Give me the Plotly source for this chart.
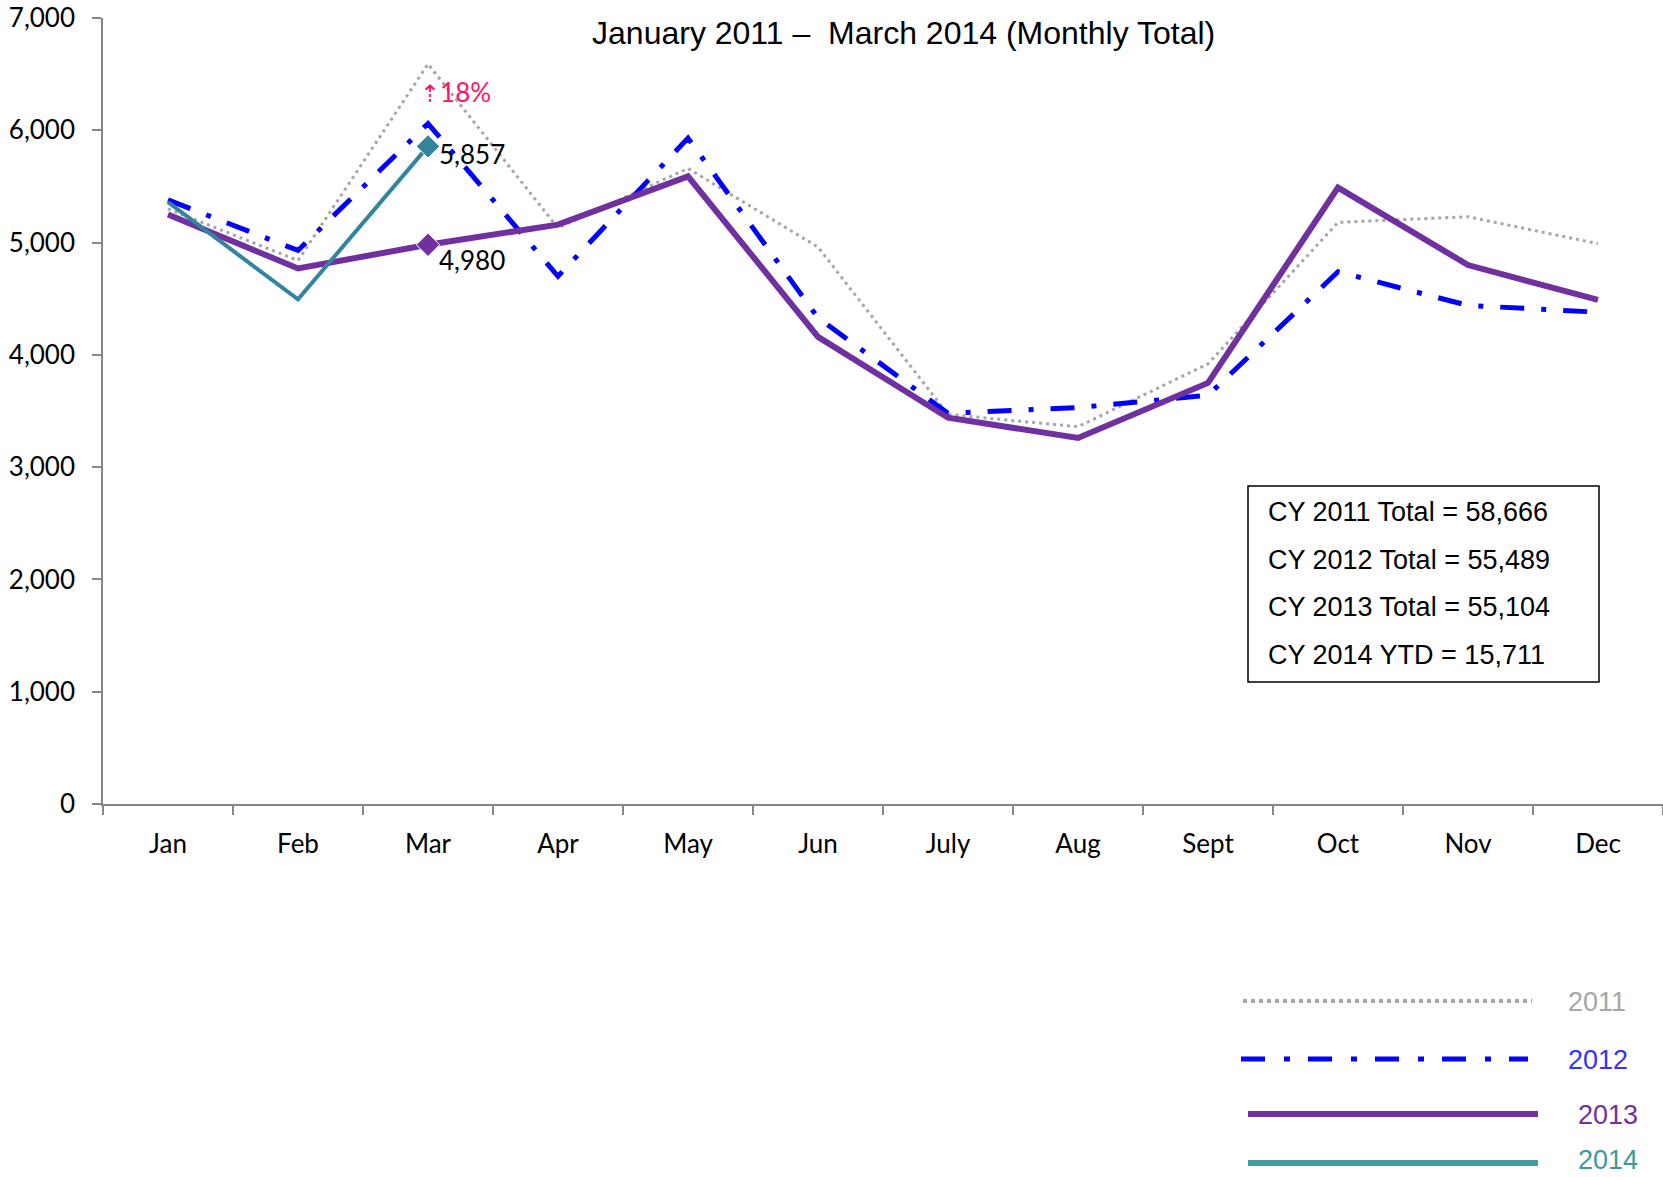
import plotly.graph_objects as go

months = ["Jan", "Feb", "Mar", "Apr", "May", "Jun", "July", "Aug", "Sept", "Oct", "Nov", "Dec"]
y2011 = [5300, 4840, 6590, 5130, 5660, 4960, 3470, 3360, 3920, 5180, 5230, 4990]
y2012 = [5380, 4930, 6060, 4700, 5930, 4330, 3480, 3530, 3640, 4740, 4440, 4380]
y2013 = [5250, 4770, 4980, 5160, 5590, 4160, 3440, 3260, 3750, 5490, 4800, 4490]
y2014 = [5360, 4494, 5857]
totals = ["CY 2011 Total = 58,666", "CY 2012 Total = 55,489",
          "CY 2013 Total = 55,104", "CY 2014 YTD = 15,711"]
series_names = ["2011", "2012", "2013", "2014"]

W, H = 1663, 1177
L, T, PB = 103, 18, 804
PW, PH = W - L, PB - T


def px(x):
    return (x - L) / PW


def py(y):
    return (PB - y) / PH


C11, C12, C13, C14 = "#A6A6A6", "#0000FF", "#7030A0", "#31859C"
TICKFONT = dict(family="Lato", size=26, color="black")

fig = go.Figure()
fig.add_trace(go.Scatter(x=months, y=y2011, mode="lines", name="2011",
                         line=dict(color=C11, width=3, dash="3px,4px")))
fig.add_trace(go.Scatter(x=months, y=y2012, mode="lines", name="2012",
                         line=dict(color=C12, width=5, dash="24px,17px,5px,17px")))
fig.add_trace(go.Scatter(x=months, y=y2013, mode="lines+markers", name="2013",
                         line=dict(color=C13, width=6),
                         marker=dict(symbol="diamond", color=C13, opacity=1,
                                     size=[18 if m == "Mar" else 0 for m in months])))
fig.add_trace(go.Scatter(x=months[:len(y2014)], y=y2014, mode="lines+markers", name="2014",
                         line=dict(color=C14, width=4),
                         marker=dict(symbol="diamond", color=C14, opacity=1,
                                     size=[18 if m == "Mar" else 0 for m in months[:len(y2014)]])))

# data labels
fig.add_annotation(x="Mar", y=y2014[2], text=f"{y2014[2]:,}", showarrow=False,
                   xanchor="left", yanchor="middle", xshift=9, yshift=-8,
                   font=TICKFONT)
fig.add_annotation(x="Mar", y=y2013[2], text=f"{y2013[2]:,}", showarrow=False,
                   xanchor="left", yanchor="middle", xshift=9, yshift=-15,
                   font=TICKFONT)
pct = round((y2014[2] / y2013[2] - 1) * 100)
fig.add_annotation(x="Mar", y=6340, text=f"<span style='font-family:DejaVu Sans;font-size:24px'>⇡</span>{pct}%",
                   showarrow=False, xanchor="left", yanchor="middle", xshift=-10,
                   font=dict(family="Lato", size=26, color="#FF1166"))

# totals box
fig.add_shape(type="rect", xref="paper", yref="paper",
              x0=px(1248), x1=px(1599), y0=py(682), y1=py(486),
              line=dict(color="black", width=1.5), fillcolor="white", layer="below")
for t, yy in zip(totals, [512, 560, 607, 655]):
    fig.add_annotation(xref="paper", yref="paper", x=px(1266), y=py(yy), text=t,
                       showarrow=False, xanchor="left", yanchor="middle",
                       font=dict(family="Liberation Sans", size=27, color="black"))

# manual legend
leg = [
    ("2011", C11, 4, "4px,4px", 1001, 1002, 1243, 1532, 1566, "#A6A6A6"),
    ("2012", C12, 5, "24px,19px,6px,18px", 1059, 1060, 1241, 1528, 1566, "#3333FF"),
    ("2013", C13, 6, "solid", 1114, 1115, 1248, 1538, 1576, C13),
    ("2014", "#459A9E", 6, "solid", 1163, 1160, 1248, 1538, 1576, "#3C9A9E"),
]
for name, col, w, dash, yy, ty, x0, x1, tx, tc in leg:
    fig.add_shape(type="line", xref="paper", yref="paper",
                  x0=px(x0), x1=px(x1), y0=py(yy), y1=py(yy),
                  line=dict(color=col, width=w, dash=dash))
    fig.add_annotation(xref="paper", yref="paper", x=px(tx), y=py(ty), text=name,
                       showarrow=False, xanchor="left", yanchor="middle",
                       font=dict(family="Liberation Sans", size=27, color=tc))

fig.update_layout(
    width=W, height=H,
    margin=dict(l=L, r=0, t=T, b=H - PB, pad=0, autoexpand=False),
    plot_bgcolor="white", paper_bgcolor="white",
    showlegend=False,
    title=dict(text="January 2011 –\u00a0 March 2014 (Monthly Total)",
               x=(852 * 1663 / 1568) / W, xref="container", xanchor="center",
               y=1 - 33 / H, yref="container", yanchor="middle",
               font=dict(family="Liberation Sans", size=32, color="black")),
)
fig.update_xaxes(type="category", range=[-0.5, 11.5], tickson="boundaries",
                 ticks="outside", ticklen=9, tickwidth=1.5, tickcolor="#868686",
                 showline=True, linecolor="#868686", linewidth=1.5,
                 showgrid=False, zeroline=False, tickfont=TICKFONT,
                 ticklabelstandoff=16, ticklabeloverflow="allow", automargin=False)
fig.update_yaxes(range=[0, 7000], dtick=1000, tickformat=",",
                 ticks="outside", ticklen=9, tickwidth=1.5, tickcolor="#868686",
                 showline=True, linecolor="#868686", linewidth=1.5,
                 showgrid=False, zeroline=False, tickfont=TICKFONT,
                 ticklabelstandoff=12, ticklabeloverflow="allow", automargin=False)

fig.write_html("out.html", config={"displayModeBar": False},
               post_script="document.body.style.margin='0px';document.body.style.overflow='hidden';")
